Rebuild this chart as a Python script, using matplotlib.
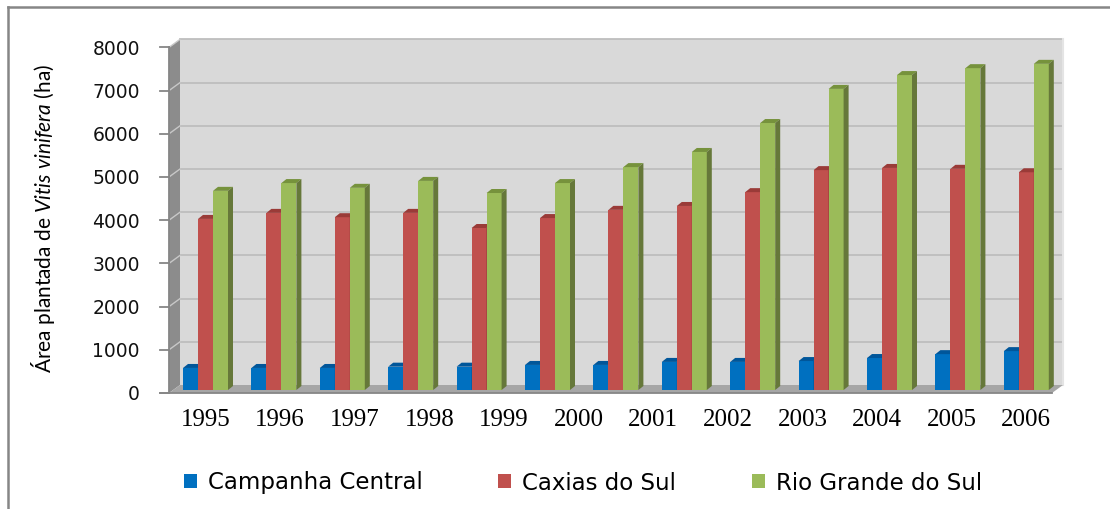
import numpy as np
import matplotlib
matplotlib.use("Agg")
import matplotlib.pyplot as plt
from matplotlib.patches import Polygon, Rectangle, Patch
from matplotlib.transforms import IdentityTransform, Affine2D
from matplotlib.lines import Line2D

# ---------------- data ----------------
group_positions = np.arange(13)
campanha_central = [510, 510, 510, 540, 540, 580, 580, 650, 650, 670, 740, 830, 900]
caxias_do_sul = [3960, 4100, 4000, 4100, 3750, 3980, 4170, 4260, 4580, 5090, 5140, 5120, 5040]
rio_grande_do_sul = [4610, 4790, 4680, 4840, 4560, 4790, 5160, 5510, 6180, 6970, 7290, 7450, 7550]
series_names = ["Campanha Central", "Caxias do Sul", "Rio Grande do Sul"]
year_labels = ["1995", "1996", "1997", "1998", "1999", "2000",
               "2001", "2002", "2003", "2004", "2005", "2006"]
y_ticks = [0, 1000, 2000, 3000, 4000, 5000, 6000, 7000, 8000]

# ---------------- style ----------------
plt.rcParams['mathtext.fontset'] = 'custom'
plt.rcParams['mathtext.rm'] = 'Lato'
plt.rcParams['mathtext.it'] = 'Lato:italic'

front_colors = ["#0070C0", "#C0504D", "#9BBB59"]
top_colors = ["#00569A", "#9A3B38", "#76923C"]
side_colors = ["#004E8A", "#8A3533", "#66783A"]

W, H = 1110, 509
fig = plt.figure(figsize=(W / 100, H / 100), dpi=100)
fig.patch.set_facecolor("white")

ax_left, ax_bottom, ax_w, ax_h = 174, 119, 883, 345.6
ax = fig.add_axes([ax_left / W, ax_bottom / H, ax_w / W, ax_h / H])
xmin = -(205.5 - ax_left) / 68.4
xmax = xmin + ax_w / 68.4
ax.set_xlim(xmin, xmax)
ax.set_ylim(0, 8000)
ax.patch.set_visible(False)
for s in ax.spines.values():
    s.set_visible(False)

BACK = (6, 5)
FRONT = (-5, -3)
DEPTH = (5, 4)


def disp(x, v, off=(0, 0)):
    p = ax.transData.transform((x, v))
    return (p[0] + off[0], p[1] + off[1])


ident = IdentityTransform()

# back wall
back_tr = ax.transData + Affine2D().translate(*BACK)
ax.add_patch(Rectangle((xmin, 0), xmax - xmin, 8000, transform=back_tr,
                       facecolor="#D9D9D9", edgecolor="none", zorder=0.5, clip_on=False))
for v in y_ticks[1:]:
    ax.add_line(Line2D([xmin, xmax], [v, v], transform=back_tr, color="#BEBEBE",
                       lw=1.3, zorder=0.6, clip_on=False))
ax.add_line(Line2D([xmax, xmax], [0, 8000], transform=back_tr, color="#E4E4E4",
                   lw=1.5, zorder=0.6, clip_on=False))

# left side wall
side = [disp(xmin, 0, FRONT), disp(xmin, 8000, FRONT), disp(xmin, 8000, BACK), disp(xmin, 0, BACK)]
ax.add_patch(Polygon(side, closed=True, transform=ident, facecolor="#8C8C8C",
                     edgecolor="none", zorder=0.7, clip_on=False))
for v in y_ticks[1:]:
    a = disp(xmin, v, FRONT)
    b = disp(xmin, v, BACK)
    ax.add_line(Line2D([a[0], b[0]], [a[1], b[1]], transform=ident, color="#C8C8C8",
                       lw=1.0, zorder=0.8, clip_on=False))

# floor
floor = [disp(xmin, 0, FRONT), disp(xmax, 0, FRONT), disp(xmax, 0, BACK), disp(xmin, 0, BACK)]
ax.add_patch(Polygon(floor, closed=True, transform=ident, facecolor="#A6A6A6",
                     edgecolor="none", zorder=0.9, clip_on=False))

# front axis lines + ticks
fl = disp(xmin, 0, FRONT)
ft = disp(xmin, 8000, FRONT)
fr = disp(xmax, 0, FRONT)
ax.add_line(Line2D([fl[0], ft[0]], [fl[1], ft[1]], transform=ident, color="#868686",
                   lw=1.3, zorder=0.95, clip_on=False))
ax.add_line(Line2D([fl[0] - 9, fr[0]], [fl[1], fr[1]], transform=ident, color="#868686",
                   lw=1.3, zorder=0.95, clip_on=False))
for v in y_ticks:
    p = disp(xmin, v, FRONT)
    ax.add_line(Line2D([p[0] - 9, p[0]], [p[1], p[1]], transform=ident, color="#868686",
                       lw=1.3, zorder=0.95, clip_on=False))
    ax.text(p[0] - 29, p[1] - 2, f"{v}", transform=ident, ha="right", va="center",
            fontsize=13.5, family="DejaVu Sans", color="#111111")

# bars
bw = 15 / 68.4
series = [campanha_central, caxias_do_sul, rio_grande_do_sul]
for si, vals in enumerate(series):
    xs = group_positions + (si - 1) * bw
    z = 2 + si
    ax.bar(xs, vals, width=bw, color=front_colors[si], edgecolor="none", zorder=z)
    for x, v in zip(xs, vals):
        x0, x1 = x - bw / 2, x + bw / 2
        tl, tr = disp(x0, v), disp(x1, v)
        top = [tl, tr, (tr[0] + DEPTH[0], tr[1] + DEPTH[1]), (tl[0] + DEPTH[0], tl[1] + DEPTH[1])]
        ax.add_patch(Polygon(top, closed=True, transform=ident, facecolor=top_colors[si],
                             edgecolor="none", zorder=z, clip_on=False))
        br = disp(x1, 0)
        sd = [br, tr, (tr[0] + DEPTH[0], tr[1] + DEPTH[1]), (br[0] + DEPTH[0], br[1] + DEPTH[1])]
        ax.add_patch(Polygon(sd, closed=True, transform=ident, facecolor=side_colors[si],
                             edgecolor="none", zorder=z, clip_on=False))

# year labels (12 labels spread across the 13 bar groups, as in the original)
ax.set_yticks([])
ax.set_xticks(np.linspace(0, 12, 12))
ax.set_xticklabels(year_labels, fontsize=18, family="Liberation Serif")
ax.tick_params(axis="x", length=0, pad=14)

# y label
fig.text(43 / W, 1 - 218 / H, r"Área plantada de $\mathit{Vitis\ vinifera}$ (ha)",
         rotation=90, ha="center", va="center", fontsize=15, family="Lato")

# legend
handles = [Patch(facecolor=c, edgecolor="none") for c in front_colors]
fig.legend(handles, series_names, loc="center", bbox_to_anchor=(583 / W, 1 - 483 / H),
           ncol=3, frameon=False, prop={"family": "DejaVu Sans", "size": 16.5},
           handlelength=0.57, handleheight=0.57, handletextpad=0.48, columnspacing=3.3)

# outer border (left and top only)
fig.add_artist(Line2D([8 / W, 8 / W], [0, 1 - 6.5 / H], transform=fig.transFigure,
                      color="#868686", lw=1.8))
fig.add_artist(Line2D([8 / W, 1], [1 - 6.5 / H, 1 - 6.5 / H], transform=fig.transFigure,
                      color="#868686", lw=1.8))

fig.savefig("out.png", dpi=100, facecolor="white")
